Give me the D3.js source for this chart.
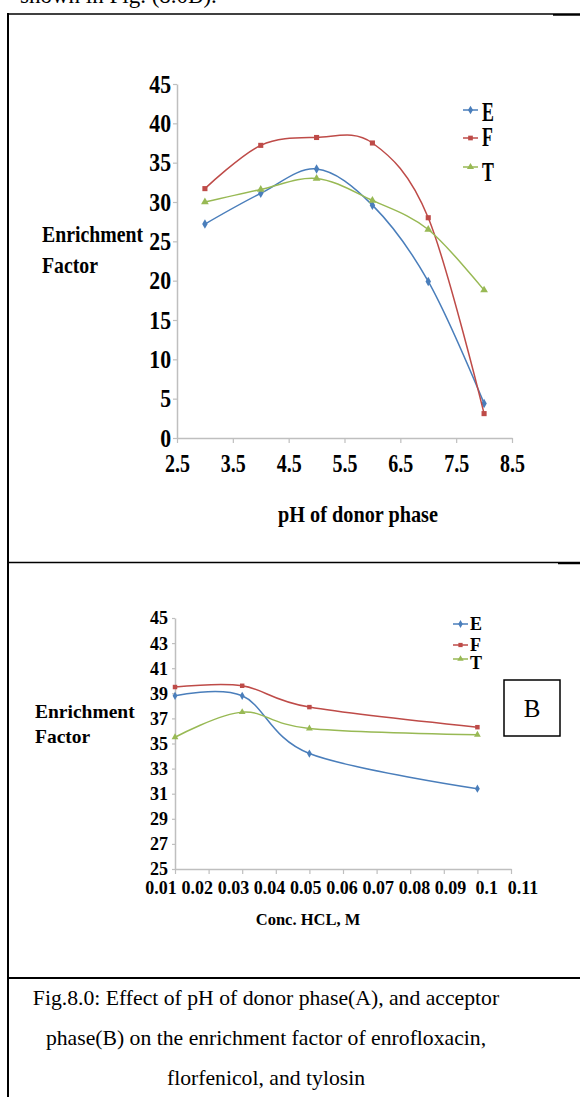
<script src="https://d3js.org/d3.v7.min.js"></script>

<style>
  body { margin: 0; background: white; }
</style>

<svg id="main_canvas" width=580 height=1097></svg>

<script>
  "use strict";
  const WIDTH = 580;
  const HEIGHT = 1097;

  // Data - panel A (pH of donor phase)
  const phValues = [3, 4, 5, 6, 7, 8];
  const phE = [27.2, 31.1, 34.2, 29.6, 19.9, 4.4];
  const phF = [31.7, 37.2, 38.2, 37.5, 28.0, 3.1];
  const phT = [30.0, 31.6, 33.0, 30.2, 26.5, 18.8];
  const phTicks = [2.5, 3.5, 4.5, 5.5, 6.5, 7.5, 8.5];
  const efTicksA = [0, 5, 10, 15, 20, 25, 30, 35, 40, 45];

  // Data - panel B (conc. HCl of acceptor phase)
  const hclValues = [0.01, 0.03, 0.05, 0.1];
  const hclE = [38.8, 38.8, 34.2, 31.4];
  const hclF = [39.5, 39.6, 37.9, 36.3];
  const hclT = [35.5, 37.5, 36.2, 35.7];
  const hclTicks = [0.01, 0.02, 0.03, 0.04, 0.05, 0.06, 0.07, 0.08, 0.09, 0.1, 0.11];
  const hclTickLabels = ["0.01", "0.02", "0.03", "0.04", "0.05", "0.06", "0.07", "0.08", "0.09", "0.1", "0.11"];
  const efTicksB = [25, 27, 29, 31, 33, 35, 37, 39, 41, 43, 45];

  const seriesNames = ["E", "F", "T"];
  const seriesColors = ["#4a7ebb", "#be4b48", "#98b954"];
  const seriesSymbols = [d3.symbolDiamond, d3.symbolSquare, d3.symbolTriangle];

  const SERIF = "'Liberation Serif', 'Times New Roman', serif";
  const AXIS_GREY = "#bfbfbf";

  const canvas = d3.select("#main_canvas");

  canvas.append("rect")
    .attr("width", WIDTH)
    .attr("height", HEIGHT)
    .attr("fill", "white");

  // helper for squeezed bold labels (the original uses a narrow bold face)
  const label = (x, y, txt, size, sx, anchor, weight) => canvas.append("text")
    .attr("transform", `translate(${x},${y}) scale(${sx},1)`)
    .attr("text-anchor", anchor || "start")
    .attr("font-family", SERIF)
    .attr("font-weight", weight || "bold")
    .attr("font-size", size)
    .attr("fill", "black")
    .text(txt);

  // Text cut off at top of page
  label(20, 3, "shown in Fig. (8.0B).", 23, 1, "start", "normal");

  // Table borders
  const border = (x1, y1, x2, y2, w) => canvas.append("line")
    .attr("x1", x1).attr("y1", y1).attr("x2", x2).attr("y2", y2)
    .attr("stroke", "black").attr("stroke-width", w);
  border(7, 14, 553, 14, 1.5);
  border(553, 14.5, WIDTH, 14.5, 2.5);
  border(7, 562.5, 558, 562.5, 1.5);
  border(558, 563, WIDTH, 563, 2.5);
  border(7, 978, WIDTH, 978, 2);
  border(8, 13, 8, HEIGHT, 2);

  const lineGen = (xs, ys) => d3.line()
    .x((d) => xs(d[0]))
    .y((d) => ys(d[1]))
    .curve(d3.curveCardinal.tension(0));

  const drawSeries = (xs, ys, xVals, series, symSize, strokeW) => {
    series.forEach((vals, i) => {
      const pts = xVals.map((x, j) => [x, vals[j]]);
      canvas.append("path")
        .attr("d", lineGen(xs, ys)(pts))
        .attr("fill", "none")
        .attr("stroke", seriesColors[i])
        .attr("stroke-width", strokeW);
      canvas.append("g")
        .selectAll("path")
        .data(pts)
        .enter()
        .append("path")
        .attr("transform", (d) => `translate(${xs(d[0])},${ys(d[1])})`)
        .attr("d", d3.symbol().type(seriesSymbols[i]).size(symSize))
        .attr("fill", seriesColors[i]);
    });
  };

  const styleAxis = (g) => {
    g.select(".domain").attr("stroke", AXIS_GREY).attr("stroke-width", 1.5);
    g.selectAll(".tick line").attr("stroke", AXIS_GREY).attr("stroke-width", 1.2);
  };

  // ---------- Panel A ----------
  const xA = d3.scaleLinear().domain([2.5, 8.5]).range([177, 512]);
  const yA = d3.scaleLinear().domain([0, 45]).range([438, 84]);

  const yAxisA = canvas.append("g")
    .attr("transform", `translate(${xA(2.5)},0)`)
    .call(d3.axisLeft(yA).tickValues(efTicksA).tickSize(4).tickSizeOuter(0));
  styleAxis(yAxisA);
  yAxisA.selectAll(".tick text")
    .attr("font-family", SERIF)
    .attr("font-weight", "bold")
    .attr("font-size", 25)
    .attr("fill", "black")
    .attr("x", -6 / 0.87)
    .attr("dy", "0.33em")
    .attr("transform", "scale(0.87,1)");

  const xAxisA = canvas.append("g")
    .attr("transform", `translate(0,${yA(0)})`)
    .call(d3.axisBottom(xA).tickValues(phTicks).tickFormat(d3.format(".1f")).tickSize(5).tickSizeOuter(0));
  styleAxis(xAxisA);
  xAxisA.selectAll(".tick text")
    .attr("font-family", SERIF)
    .attr("font-weight", "bold")
    .attr("font-size", 25)
    .attr("fill", "black")
    .attr("y", 34)
    .attr("dy", 0)
    .attr("x", 0)
    .attr("transform", "scale(0.8,1)");

  drawSeries(xA, yA, phValues, [phE, phF, phT], 26, 1.5);

  label(42, 242, "Enrichment", 23, 0.86);
  label(42, 273, "Factor", 23, 0.86);
  label(358, 522, "pH of donor phase", 23, 0.88, "middle");

  // Legend A
  const legendAy = [110, 138, 167];
  const legendATextY = [121, 146, 181];
  seriesNames.forEach((name, i) => {
    canvas.append("line")
      .attr("x1", 463).attr("x2", 478)
      .attr("y1", legendAy[i]).attr("y2", legendAy[i])
      .attr("stroke", seriesColors[i]).attr("stroke-width", 1.5);
    canvas.append("path")
      .attr("transform", `translate(470.5,${legendAy[i]})`)
      .attr("d", d3.symbol().type(seriesSymbols[i]).size(22))
      .attr("fill", seriesColors[i]);
    label(482, legendATextY[i], name, 27, 0.66);
  });

  // ---------- Panel B ----------
  const xB = d3.scaleLinear().domain([0.01, 0.11]).range([175, 511]);
  const yB = d3.scaleLinear().domain([25, 45]).range([869, 618]);
  // the tick labels in the original sit on a slightly wider spread than the ticks
  const xBLabel = d3.scaleLinear().domain([0.01, 0.11]).range([161, 523]);

  const yAxisB = canvas.append("g")
    .attr("transform", `translate(${xB(0.01)},0)`)
    .call(d3.axisLeft(yB).tickValues(efTicksB).tickSize(3).tickSizeOuter(0));
  styleAxis(yAxisB);
  yAxisB.selectAll(".tick text")
    .attr("font-family", SERIF)
    .attr("font-weight", "bold")
    .attr("font-size", 18)
    .attr("fill", "black")
    .attr("x", -7)
    .attr("dy", "0.33em");

  const xAxisB = canvas.append("g")
    .attr("transform", `translate(0,${yB(25)})`)
    .call(d3.axisBottom(xB).tickValues(hclTicks).tickFormat("").tickSize(5).tickSizeOuter(0));
  styleAxis(xAxisB);

  canvas.append("g")
    .selectAll("text")
    .data(hclTicks)
    .enter()
    .append("text")
    .attr("x", (d) => xBLabel(d))
    .attr("y", yB(25) + 25)
    .attr("text-anchor", "middle")
    .attr("font-family", SERIF)
    .attr("font-weight", "bold")
    .attr("font-size", 18)
    .attr("fill", "black")
    .text((d, i) => hclTickLabels[i]);

  drawSeries(xB, yB, hclValues, [hclE, hclF, hclT], 20, 1.5);

  label(35, 718, "Enrichment", 19.5, 1);
  label(35, 743, "Factor", 19.5, 1);
  label(308, 925, "Conc. HCL, M", 16.5, 1, "middle");

  // Legend B
  const legendBy = [624, 645, 659];
  const legendBTextY = [630, 651, 669];
  seriesNames.forEach((name, i) => {
    canvas.append("line")
      .attr("x1", 453).attr("x2", 468)
      .attr("y1", legendBy[i]).attr("y2", legendBy[i])
      .attr("stroke", seriesColors[i]).attr("stroke-width", 1.5);
    canvas.append("path")
      .attr("transform", `translate(460.5,${legendBy[i]})`)
      .attr("d", d3.symbol().type(seriesSymbols[i]).size(18))
      .attr("fill", seriesColors[i]);
    label(470, legendBTextY[i], name, 18, 1);
  });

  // "B" box
  canvas.append("rect")
    .attr("x", 504)
    .attr("y", 680)
    .attr("width", 56)
    .attr("height", 56)
    .attr("fill", "none")
    .attr("stroke", "black")
    .attr("stroke-width", 1.5);
  label(532, 717, "B", 25, 1, "middle", "normal");

  // Caption
  const captionLines = [
    "Fig.8.0: Effect of pH of donor phase(A), and acceptor",
    "phase(B) on the enrichment factor of enrofloxacin,",
    "florfenicol, and tylosin"
  ];
  captionLines.forEach((t, i) => label(266, 1005 + i * 40, t, 21.7, 1, "middle", "normal"));
</script>
